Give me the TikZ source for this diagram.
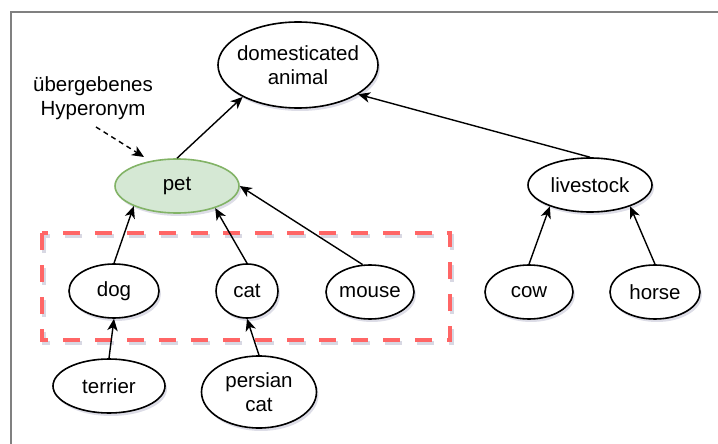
\documentclass[tikz,border=0pt]{standalone}
\usepackage{fontspec}
\setmainfont{Liberation Sans}
\usetikzlibrary{shapes.geometric,arrows.meta,shadows}
\definecolor{petfill}{HTML}{D5E8D4}
\definecolor{petdraw}{HTML}{82B366}
\definecolor{boxred}{HTML}{FF6666}
\definecolor{shadowc}{HTML}{9090B0}
\begin{document}
\begin{tikzpicture}[x=1pt,y=-1pt,
  every node/.style={font=\fontsize{20.5}{23.5}\selectfont},
  txt/.style={align=center, inner sep=0pt},
  ell/.style={ellipse, draw=black, line width=1.6pt, fill=white, inner sep=0pt,
    drop shadow={shadow xshift=2pt, shadow yshift=-3pt, opacity=0.3, fill=shadowc}},
  arr/.style={-{Stealth[length=12pt,width=10.5pt,inset=3.5pt]}, line width=1.4pt},
  dasharr/.style={arr, dash pattern=on 5pt off 4pt}]
\useasboundingbox (0,0) rectangle (718,444);
\draw[gray, line width=1.2pt] (11,444) -- (11,12) -- (718,12);

% red dashed group box
\draw[shadowc, opacity=0.35, line width=4pt, dash pattern=on 17pt off 15pt] (44,236) rectangle (452,343);
\draw[boxred, line width=4.5pt, dash pattern=on 17pt off 15pt] (42,233) rectangle (450,340);

\node[ell, minimum width=160pt, minimum height=86pt, label={[txt]center:{domesticated\\animal}}] (dom) at (298,65) {};
\node[ell, fill=petfill, draw=petdraw, minimum width=124pt, minimum height=54pt, label={[txt]center:pet}] (pet) at (177,186) {};
\node[ell, minimum width=124pt, minimum height=54pt, label={[txt]center:livestock}] (liv) at (590,185) {};
\node[ell, minimum width=90pt, minimum height=54pt, label={[txt]center:dog}] (dog) at (114,291) {};
\node[ell, minimum width=62pt, minimum height=54pt, label={[txt]center:cat}] (cat) at (247,291) {};
\node[ell, minimum width=88pt, minimum height=54pt, label={[txt]center:mouse}] (mouse) at (370,292) {};
\node[ell, minimum width=88pt, minimum height=54pt, label={[txt]center:cow}] (cow) at (529,292) {};
\node[ell, minimum width=90pt, minimum height=54pt, label={[txt]center:horse}] (horse) at (655,292) {};
\node[ell, minimum width=112pt, minimum height=54pt, label={[txt]center:terrier}] (ter) at (109,386) {};
\node[ell, minimum width=115pt, minimum height=72pt, label={[txt]center:{persian\\cat}}] (per) at (259,392) {};

\node[txt] (hyp) at (93,98) {übergebenes\\Hyperonym};
\coordinate (hs) at (96,127);
\coordinate (he) at (144,157);
\draw[dasharr] (hs) -- (he);

\draw[arr] (pet.north) -- (dom.210);
\draw[arr] (liv.north) -- (dom.-26);
\draw[arr] (dog.north) -- (pet.205);
\draw[arr] (cat.north) -- (pet.-30);
\draw[arr] (mouse.105) -- (pet.east);
\draw[arr] (ter.north) -- (dog.south);
\draw[arr] (per.north) -- (cat.south);
\draw[arr] (cow.north) -- (liv.208);
\draw[arr] (horse.north) -- (liv.-28);
\end{tikzpicture}
\end{document}
